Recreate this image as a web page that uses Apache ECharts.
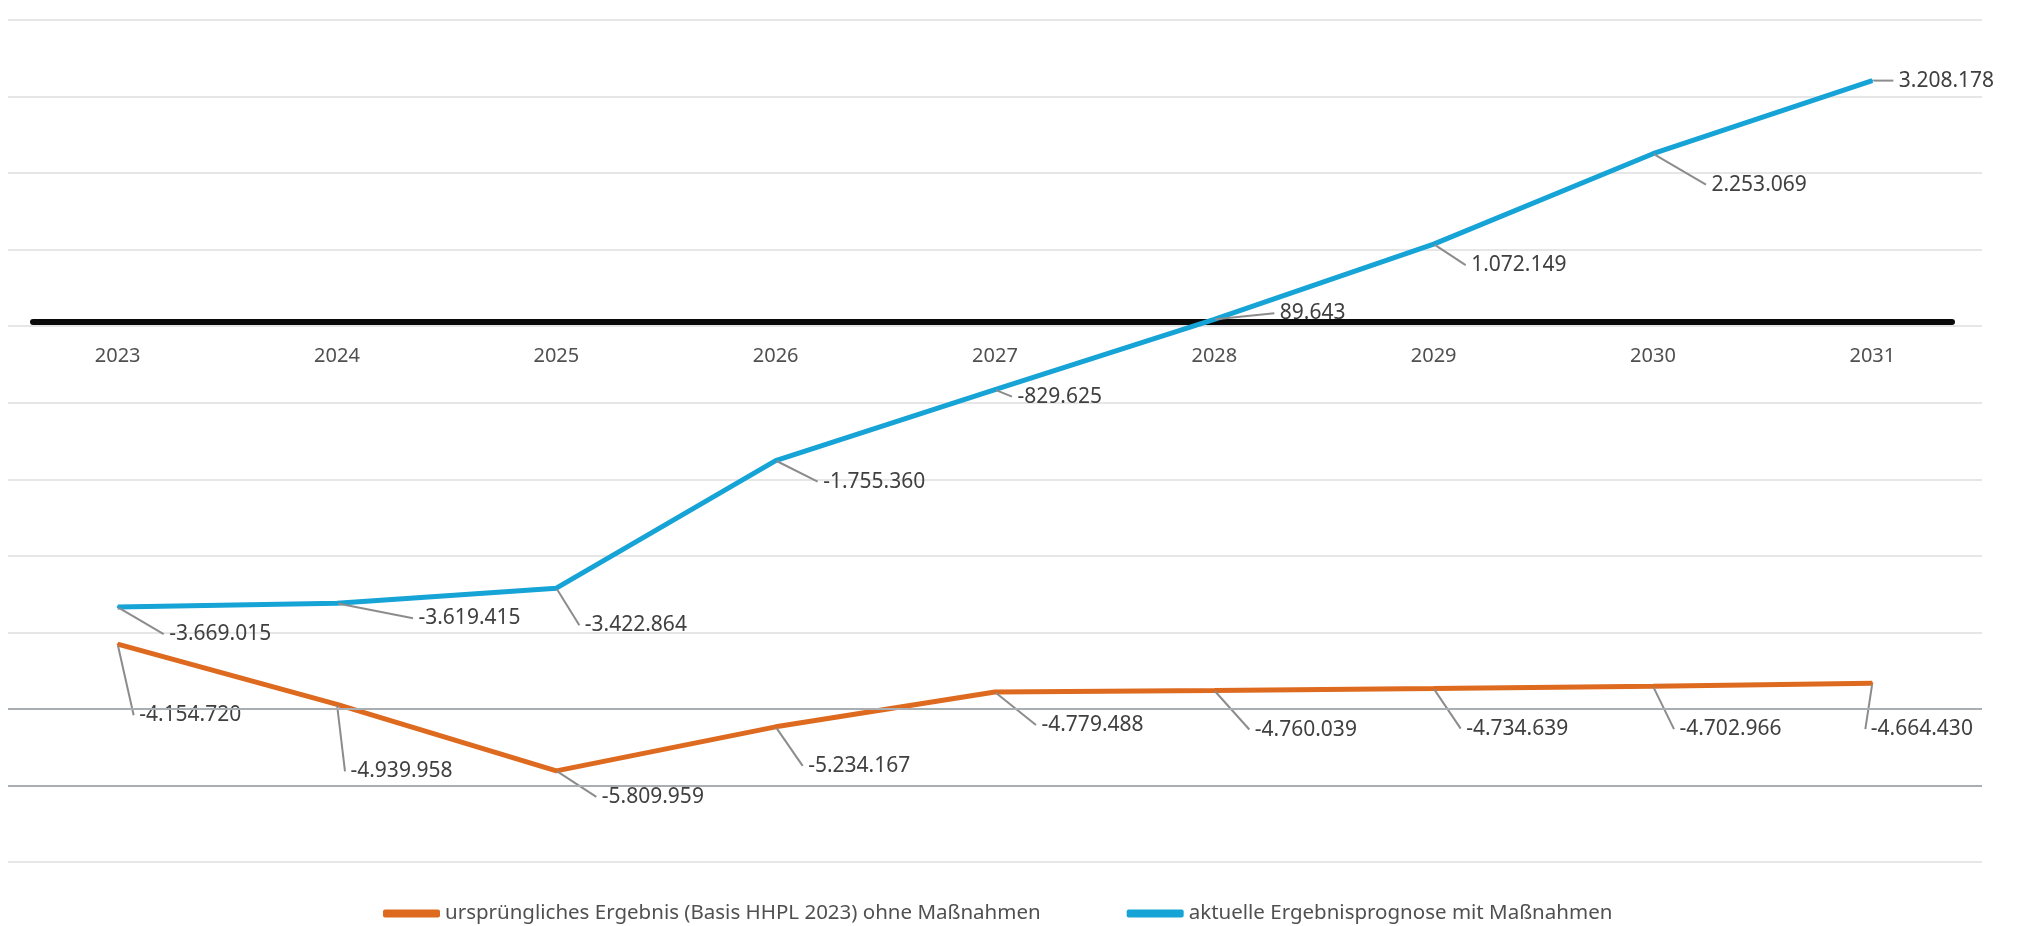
<!DOCTYPE html>
<html>
<head>
<meta charset="utf-8">
<script src="https://cdn.jsdelivr.net/npm/echarts@6/dist/echarts.min.js"></script>
<style>
  html, body { margin: 0; padding: 0; background: #fff; }
  #chart { width: 2022px; height: 926px; }
</style>
</head>
<body>
<div id="chart"></div>
<script>
const years = ["2023", "2024", "2025", "2026", "2027", "2028", "2029", "2030", "2031"];
const ursprungValues = [-4154720, -4939958, -5809959, -5234167, -4779488, -4760039, -4734639, -4702966, -4664430];
const prognoseValues = [-3669015, -3619415, -3422864, -1755360, -829625, 89643, 1072149, 2253069, 3208178];
const refLines = [-5000000, -6000000];

// label offsets (dx, dy) from the default right-hand position
const ursprungOffsets = [[10, 71], [2, 67], [34, 26], [21, 39], [35, 33], [29, 39], [21, 40], [15, 43], [-13, 46]];
const prognoseOffsets = [[40, 27], [70, 15], [17, 37], [36, 21], [11, 7], [54, -6], [26, 21], [47, 31], [15, 0]];

const ORANGE = "#dd6a1f";
const BLUE = "#16a3d6";
const TEXT = "#404040";
const FONT = "Noto Sans";

function fmt(v) {
  const s = Math.abs(v).toString().replace(/\B(?=(\d{3})+(?!\d))/g, ".");
  return (v < 0 ? "-" : "") + s;
}

const chart = echarts.init(document.getElementById("chart"), null, { renderer: "canvas" });

const labelCommon = {
  show: true,
  position: "right",
  distance: 5,
  color: TEXT,
  fontFamily: FONT,
  fontSize: 21,
  // leading space keeps the leader line off the minus sign
  formatter: (p) => " " + fmt(p.value),
};
const leader = { show: true, lineStyle: { color: "#8c8c8c", width: 2 } };

const yRange = { min: -7000000, max: 4000000 };

chart.setOption({
  animation: false,
  textStyle: { fontFamily: FONT },
  grid: [
    { left: 8, right: 40, top: 20, bottom: 64 },
    { left: 33, right: 70, top: 16, bottom: 68 },
  ],
  xAxis: [
    {
      type: "category",
      gridIndex: 0,
      data: years,
      boundaryGap: true,
      axisLine: { show: false },
      axisTick: { show: false },
      axisLabel: { show: false },
    },
    {
      type: "category",
      gridIndex: 1,
      data: years,
      axisLine: { show: true, onZero: true, lineStyle: { color: "#0a0a0a", width: 6, cap: "round" } },
      axisTick: { show: false },
      axisLabel: { show: false },
    },
  ],
  yAxis: [
    {
      type: "value",
      gridIndex: 0,
      ...yRange,
      interval: 1000000,
      axisLabel: { show: false },
      axisLine: { show: false },
      axisTick: { show: false },
      splitLine: { lineStyle: { color: "#e6e6e6", width: 2 } },
    },
    { type: "value", gridIndex: 1, ...yRange, show: false, splitLine: { show: false } },
  ],
  legend: {
    top: 898,
    left: 378,
    itemWidth: 57,
    itemHeight: 8,
    itemGap: 86,
    icon: "roundRect",
    textStyle: { color: "#505050", fontSize: 20.5, fontFamily: FONT },
    data: [
      "ursprüngliches Ergebnis (Basis HHPL 2023) ohne Maßnahmen",
      "aktuelle Ergebnisprognose mit Maßnahmen",
    ],
  },
  series: [
    {
      name: "ursprüngliches Ergebnis (Basis HHPL 2023) ohne Maßnahmen",
      type: "line",
      data: ursprungValues,
      symbol: "circle",
      symbolSize: 2,
      itemStyle: { color: ORANGE },
      lineStyle: { color: ORANGE, width: 5 },
      label: labelCommon,
      labelLine: leader,
      labelLayout: (p) => ({ dx: ursprungOffsets[p.dataIndex][0], dy: ursprungOffsets[p.dataIndex][1] }),
      markLine: {
        silent: true,
        symbol: "none",
        label: { show: false },
        lineStyle: { color: "#a9aeb3", width: 2, type: "solid" },
        data: refLines.map((v) => ({ yAxis: v })),
      },
    },
    {
      name: "aktuelle Ergebnisprognose mit Maßnahmen",
      type: "line",
      data: prognoseValues,
      symbol: "circle",
      symbolSize: 2,
      itemStyle: { color: BLUE },
      lineStyle: { color: BLUE, width: 5 },
      label: labelCommon,
      labelLine: leader,
      labelLayout: (p) => ({ dx: prognoseOffsets[p.dataIndex][0], dy: prognoseOffsets[p.dataIndex][1] }),
      // year labels sit just below the zero line
      markPoint: {
        silent: true,
        symbol: "rect",
        symbolSize: 1,
        itemStyle: { color: "rgba(0,0,0,0)" },
        label: {
          show: true,
          position: "inside",
          offset: [0, 30],
          color: "#505050",
          fontSize: 20,
          fontFamily: FONT,
          formatter: (p) => p.name,
        },
        data: years.map((y) => ({ name: y, coord: [y, 0] })),
      },
    },
  ],
});
</script>
</body>
</html>
